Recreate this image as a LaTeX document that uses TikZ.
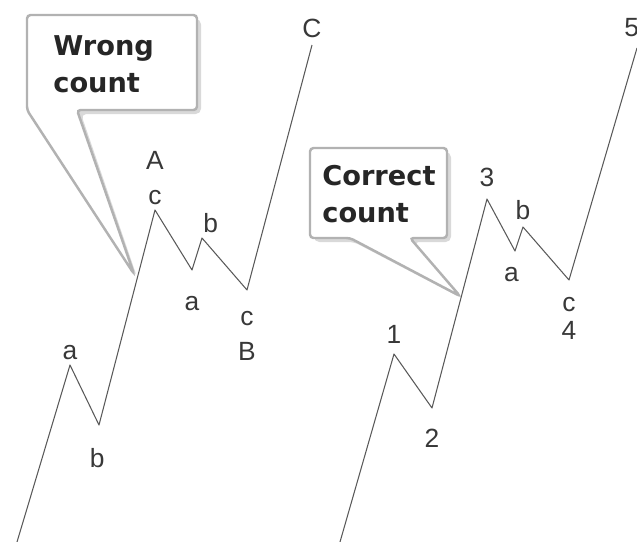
\documentclass[tikz,border=0pt]{standalone}
\usepackage{fontspec}
\setmainfont{Liberation Sans}
\newfontfamily\calloutfont{DejaVu Sans}
\usetikzlibrary{positioning, calc}

\begin{document}
\begin{tikzpicture}[
      x=0.02cm, y=-0.02cm,
      wave/.style={draw=black!65, line width=0.6pt, line join=round},
      lbl/.style={font=\fontsize{15}{15}\selectfont, text=black!78, inner sep=0pt},
      callout/.style={fill=white, draw=black!30, line width=1.4pt, rounded corners=2pt},
      shade/.style={fill=black!15, draw=none, rounded corners=3pt},
      note/.style={font=\calloutfont\bfseries\fontsize{15.5}{21}\selectfont,
        align=left, text=black!85, inner sep=0pt, anchor=north west}
    ]
      \useasboundingbox (0,0) rectangle (637,542);

      % wrong count
      \coordinate (w0) at (17,542);
      \coordinate (wa) at (70,365);
      \coordinate (wb) at (99,425);
      \coordinate (wA) at (155,210);
      \coordinate (wa2) at (192,270);
      \coordinate (wb2) at (202,238);
      \coordinate (wB) at (247,290);
      \coordinate (wC) at (312,45);
      \coordinate (wtip) at (134,274);

      \fill[shade] (31,19) -- (201,19) -- (201,114) -- (81,114) -- ($(wtip)+(3,3)$) -- (31,114) -- cycle;
      \draw[callout] (27,15) -- (197,15) -- (197,110) -- (77,110) -- (wtip) -- (27,110) -- cycle;
      \node[note] (wrong) at (53,35) {Wrong\\count};

      \draw[wave] (w0) -- (wa) -- (wb) -- (wA) -- (wa2) -- (wb2) -- (wB) -- (wC);
      \node[lbl, above=3pt of wa] (la1) {a};
      \node[lbl, below=13pt of wb, xshift=-1pt] (lb1) {b};
      \node[lbl, above=3pt of wA] (lc1) {c};
      \node[lbl, above=11pt of lc1] (lA) {A};
      \node[lbl, above=3pt of wb2, xshift=5pt] (lb2) {b};
      \node[lbl, below=15pt of wa2] (la2) {a};
      \node[lbl, below=12pt of wB] (lc2) {c};
      \node[lbl, below=9pt of lc2] (lB) {B};
      \node[lbl, above=4pt of wC] (lC) {C};

      % correct count
      \coordinate (r0) at (340,542);
      \coordinate (r1) at (394,354);
      \coordinate (r2) at (432,408);
      \coordinate (r3) at (487,199);
      \coordinate (ra) at (515,251);
      \coordinate (rb) at (523,227);
      \coordinate (r4) at (569,280);
      \coordinate (r5) at (637,48);
      \coordinate (ctip) at (460,296);

      \fill[shade] (314,152) -- (451,152) -- (451,242) -- (414,242) -- ($(ctip)+(3,3)$) -- (354,242) -- (314,242) -- cycle;
      \draw[callout] (310,148) -- (447,148) -- (447,238) -- (410,238) -- (ctip) -- (350,238) -- (310,238) -- cycle;
      \node[note] (correct) at (322,165) {Correct\\count};

      \draw[wave] (r0) -- (r1) -- (r2) -- (r3) -- (ra) -- (rb) -- (r4) -- (r5);
      \node[lbl, above=6pt of r1] (l1) {1};
      \node[lbl, below=12pt of r2] (l2) {2};
      \node[lbl, above=7pt of r3] (l3) {3};
      \node[lbl, above=4pt of rb] (lb3) {b};
      \node[lbl, below=9pt of ra, xshift=-2pt] (la3) {a};
      \node[lbl, below=9.5pt of r4] (lc3) {c};
      \node[lbl, below=5.5pt of lc3] (l4) {4};
      \node[lbl, above=6pt of r5, xshift=-3pt] (l5) {5};
    \end{tikzpicture}
\end{document}
